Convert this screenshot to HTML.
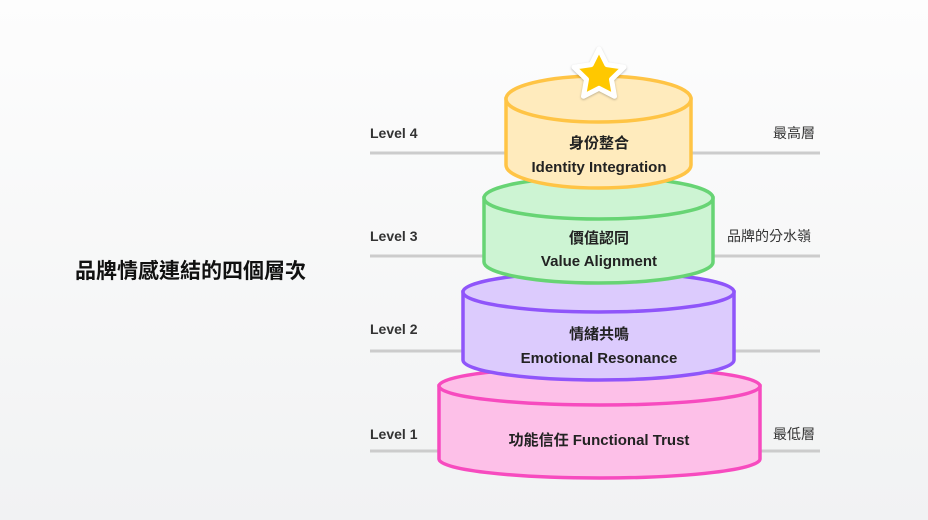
<!DOCTYPE html>
<html><head><meta charset="utf-8"><style>
html,body{margin:0;padding:0}
body{width:928px;height:520px;overflow:hidden;background:linear-gradient(180deg,#fdfdfd 0%,#f1f2f3 100%);font-family:"Liberation Sans","Noto Sans CJK TC",sans-serif;}
</style></head><body>
<svg width="928" height="520" xmlns="http://www.w3.org/2000/svg" style="position:absolute;left:0;top:0;font-family:'Liberation Sans','Noto Sans CJK TC',sans-serif">
<g stroke="#cccccc" stroke-width="3">
<line x1="370" y1="153" x2="820" y2="153"/>
<line x1="370" y1="256" x2="820" y2="256"/>
<line x1="370" y1="351" x2="820" y2="351"/>
<line x1="370" y1="451" x2="820" y2="451"/>
</g>
<g font-size="14" font-weight="bold" fill="#333">
<text x="370" y="138">Level 4</text>
<text x="370" y="241">Level 3</text>
<text x="370" y="334">Level 2</text>
<text x="370" y="439">Level 1</text>
</g>
<g font-size="14" fill="#333">
<text x="773" y="138">最高層</text>
<text x="727" y="241">品牌的分水嶺</text>
<text x="773" y="439">最低層</text>
</g>
<text x="75" y="278" font-size="21" font-weight="bold" fill="#111">品牌情感連結的四個層次</text>
<g stroke="#f74bbf" stroke-width="3.5" fill="#fdc0e8">
<path d="M439 386 L439 459 A160.5 19 0 0 0 760 459 L760 386 Z"/>
<ellipse cx="599.5" cy="386" rx="160.5" ry="19"/>
</g>
<g stroke="#8f55fa" stroke-width="3.5" fill="#dccbfd">
<path d="M463 292 L463 360 A135.5 20 0 0 0 734 360 L734 292 Z"/>
<ellipse cx="598.5" cy="292" rx="135.5" ry="20"/>
</g>
<g stroke="#67d474" stroke-width="3.5" fill="#cdf4d3">
<path d="M484 198 L484 262 A114.5 21 0 0 0 713 262 L713 198 Z"/>
<ellipse cx="598.5" cy="198" rx="114.5" ry="21"/>
</g>
<g stroke="#ffc445" stroke-width="3.5" fill="#ffebbd">
<path d="M506 99 L506 165 A92.5 23 0 0 0 691 165 L691 99 Z"/>
<ellipse cx="598.5" cy="99" rx="92.5" ry="23"/>
</g>
<polygon points="599,49 606.8,64.6 624,67.2 611.5,79.3 614.5,96.3 599,88.3 583.5,96.3 586.5,79.3 574,67.2 591.2,64.6" fill="#ffc800" stroke="#ffffff" stroke-width="5" stroke-linejoin="round" style="filter:drop-shadow(0 1px 1px rgba(0,0,0,0.25))"/>
<g font-size="15" font-weight="bold" fill="#222" text-anchor="middle">
<text x="599" y="148">身份整合</text>
<text x="599" y="172">Identity Integration</text>
<text x="599" y="243">價值認同</text>
<text x="599" y="266">Value Alignment</text>
<text x="599" y="339">情緒共鳴</text>
<text x="599" y="363">Emotional Resonance</text>
<text x="599" y="445">功能信任 Functional Trust</text>
</g>
</svg>
</body></html>
